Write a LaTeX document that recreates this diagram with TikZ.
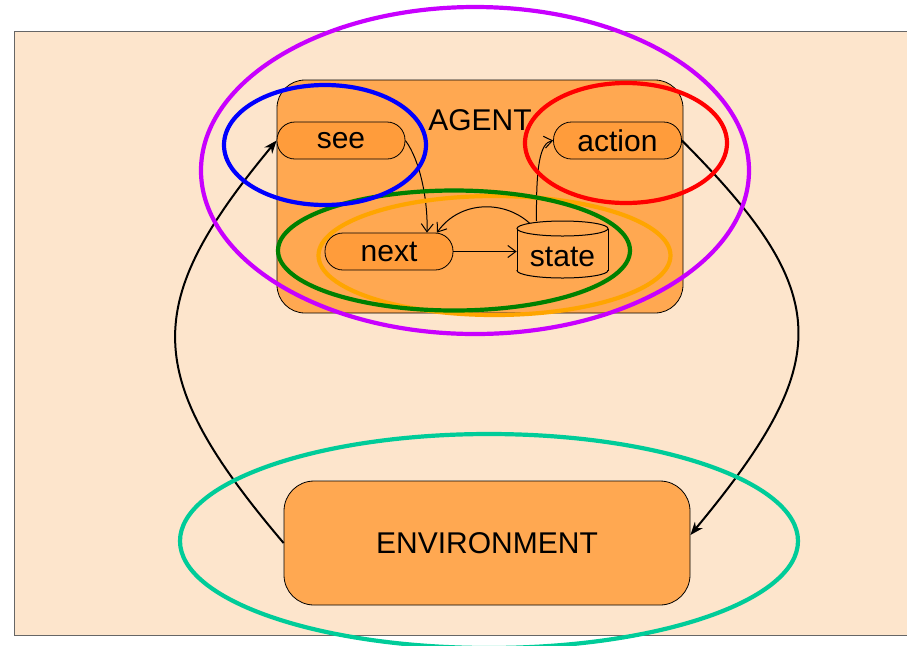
\documentclass[tikz,border=0pt]{standalone}
\usepackage{fontspec}
\setmainfont{Liberation Sans}
\usetikzlibrary{arrows.meta}
\definecolor{bgpeach}{HTML}{FDE5CC}
\definecolor{agentor}{HTML}{FFA851}
\definecolor{nodeor}{HTML}{FF9C3B}
\definecolor{magentac}{HTML}{C800FF}
\definecolor{tealc}{HTML}{00CC99}
\definecolor{orangec}{HTML}{FFA500}
\definecolor{greenc}{HTML}{008000}
\definecolor{framec}{HTML}{666666}
\begin{document}
\begin{tikzpicture}[x=0.5pt,y=-0.5pt, font=\fontsize{15}{18}\selectfont,
 proc/.style={draw=black, fill=nodeor, rounded corners=9pt, minimum width=64pt, minimum height=18.5pt, inner sep=0pt, line width=0.4pt},
 bigbox/.style={draw=black, fill=agentor, line width=0.4pt, minimum width=203pt, inner sep=0pt},
 thinarrow/.style={-{Straight Barb[length=4pt,width=6pt]}, line width=0.5pt},
 bigarrow/.style={-{Stealth[length=6.5pt,width=5pt]}, line width=1pt},
 ring/.style={line width=2.1pt}]
\clip (0,0) rectangle (907,645);
\fill[white] (0,0) rectangle (907,645);
\draw[fill=bgpeach, draw=framec, line width=0.5pt] (14,31) rectangle (920,635);
% agent
\node[bigbox, minimum height=116.5pt, rounded corners=14pt] (agent) at (480,196.5) {};
\node (agentlbl) at (480,120) {AGENT};
\node[proc] (see) at (341,140.5) {see};
\node[proc] (action) at (617.5,140.5) {action};
\node[proc] (next) at (389,251.5) {next};
% state cylinder
\node[minimum width=45.5pt, minimum height=29pt, inner sep=0pt] (state) at (562.5,249.5) {};
\fill[agentor] (517,228.5) rectangle (608,270.5);
\fill[agentor] (562.5,270.5) ellipse[x radius=45.5, y radius=7.5];
\draw[line width=0.5pt] (517,228.5) -- (517,270.5) (608,228.5) -- (608,270.5);
\draw[line width=0.5pt] (562.5,228.5) ellipse[x radius=45.5, y radius=7.5];
\begin{scope}
\clip (510,270.5) rectangle (615,290);
\draw[line width=0.5pt] (562.5,270.5) ellipse[x radius=45.5, y radius=7.5];
\end{scope}
\node (statelbl) at (562.5,257) {state};
% internal arrows
\draw[thinarrow] (see.east) .. controls (420,160) and (428,200) .. ([xshift=19pt]next.north);
\draw[thinarrow] (next.east) -- (next.east -| state.west);
\draw[thinarrow] ([xshift=-16.25pt,yshift=-1.75pt]state.north) .. controls (505,200) and (460,200) .. ([xshift=24pt]next.north);
\draw[thinarrow] ([xshift=-13pt,yshift=-0.5pt]state.north) .. controls (536,165) and (540,143) .. (action.west);
% environment
\node[bigbox, minimum height=62pt, rounded corners=15pt] (env) at (487,543) {ENVIRONMENT};
% big arrows
\draw[bigarrow] (env.west) .. controls (141,375) and (141,304) .. (see.west);
\draw[bigarrow] (action.east) .. controls (835,294) and (835,361) .. ([yshift=4pt]env.east);
% rings
\draw[ring, magentac] (475,170.5) ellipse[x radius=274, y radius=163.5];
\draw[ring, orangec] (494.5,255.5) ellipse[x radius=176, y radius=59.5];
\draw[ring, greenc] (454,250.5) ellipse[x radius=176, y radius=60];
\draw[ring, blue] (325,145) ellipse[x radius=101, y radius=60];
\draw[ring, red] (626,143) ellipse[x radius=101, y radius=60];
\draw[ring, tealc] (489,541) ellipse[x radius=309, y radius=107];
\end{tikzpicture}
\end{document}
